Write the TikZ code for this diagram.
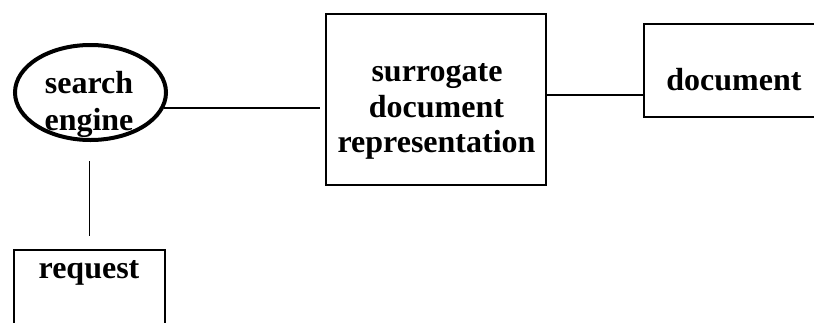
\documentclass[tikz,border=0pt]{standalone}
\usepackage{fontspec}
\setmainfont{Liberation Serif}
\usetikzlibrary{shapes.geometric}
\tikzset{
  lbl/.style={font=\bfseries\fontsize{32}{36}\selectfont, anchor=base, inner sep=0pt},
  boxshape/.style={draw, rectangle, line width=2.2pt, inner sep=0pt},
  engineshape/.style={draw, ellipse, line width=4pt, inner sep=0pt},
  link/.style={line width=1.5pt}
}
\begin{document}
\begin{tikzpicture}[x=1pt,y=-1pt]
  \useasboundingbox (0,0) rectangle (814,322);
  \clip (0,0) rectangle (814,322);

  % shapes
  \node[engineshape, minimum width=151pt, minimum height=95pt] (se) at (90.5,92.5) {};
  \node[boxshape, minimum width=220pt, minimum height=171pt] (sd) at (436,99.5) {};
  \node[boxshape, minimum width=186pt, minimum height=93pt] (doc) at (737,70.5) {};
  \node[boxshape, minimum width=151pt, minimum height=90pt] (req) at (89.5,295) {};

  % labels
  \node[lbl] (se1) at (89,93) {search};
  \node[lbl] (se2) at (89,130.5) {engine};
  \node[lbl] (sd1) at (437,81.7) {surrogate};
  \node[lbl] (sd2) at (436.5,117.3) {document};
  \node[lbl] (sd3) at (436.5,152.8) {representation};
  \node[lbl] (doc1) at (734,90.5) {document};
  \node[lbl] (req1) at (89,278.5) {request};

  % connectors
  \draw[link] (se.-12) -- ([xshift=-4.5pt]sd.west |- se.-12);
  \draw[link] ([yshift=4.5pt]sd.east) coordinate (p) -- (p -| doc.west);
  \draw[link] ([yshift=-19pt]req.north |- se.south) -- ([yshift=13pt]req.north);
\end{tikzpicture}
\end{document}
